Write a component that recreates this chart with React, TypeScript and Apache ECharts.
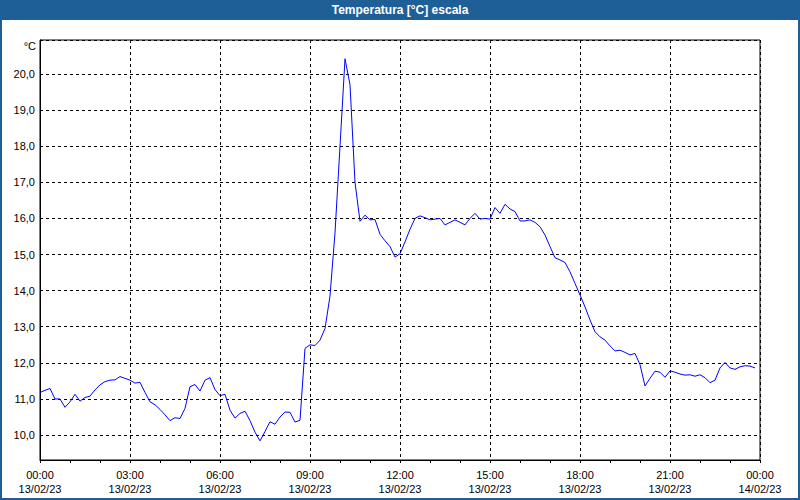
import React, { useEffect, useRef } from "react";
import * as echarts from "echarts";

const TITLE = "Temperatura [°C] escala";
const UNIT = "°C";
const SAMPLE_MINUTES = 10;
const X_TICK_DATES: Record<number, string> = { 0: "13/02/23", 1440: "14/02/23" };
const DEFAULT_DATE = "13/02/23";

// Temperature readings, one every 10 minutes from 00:00 to 23:50
const temperatures: number[] = [
  11.18, 11.24, 11.29, 11.0, 11.0, 10.77, 10.92, 11.13, 10.94, 11.04,
  11.08, 11.25, 11.39, 11.48, 11.52, 11.53, 11.62, 11.57, 11.52, 11.44,
  11.46, 11.18, 10.92, 10.84, 10.71, 10.56, 10.4, 10.48, 10.46, 10.74,
  11.34, 11.4, 11.22, 11.52, 11.59, 11.26, 11.09, 11.13, 10.69, 10.47,
  10.6, 10.66, 10.4, 10.08, 9.84, 10.1, 10.37, 10.3, 10.5, 10.64,
  10.63, 10.36, 10.41, 12.4, 12.5, 12.48, 12.63, 12.95, 13.85, 15.6,
  18.0, 20.42, 19.7, 17.0, 15.92, 16.09, 15.96, 15.97, 15.56, 15.38,
  15.22, 14.93, 15.02, 15.35, 15.7, 16.0, 16.07, 16.02, 15.96, 15.98,
  16.0, 15.82, 15.89, 15.96, 15.89, 15.82, 16.0, 16.14, 15.98, 16.0,
  15.98, 16.3, 16.14, 16.39, 16.26, 16.19, 15.93, 15.93, 15.96, 15.89,
  15.77, 15.54, 15.22, 14.91, 14.85, 14.78, 14.52, 14.2, 13.88, 13.55,
  13.19, 12.86, 12.72, 12.63, 12.47, 12.33, 12.35, 12.29, 12.22, 12.26,
  11.95, 11.36, 11.57, 11.77, 11.74, 11.6, 11.78, 11.74, 11.69, 11.66,
  11.67, 11.63, 11.67, 11.59, 11.45, 11.52, 11.86, 12.01, 11.86, 11.82,
  11.89, 11.92, 11.91, 11.86,
];

const Y_MIN = 9.31;
const Y_MAX = 20.94;
const X_MIN = 0;
const X_MAX = 1440;

const BLUE_FRAME = "#1f5f98";
const FONT = "'Liberation Sans', Arial, sans-serif";

export default function App() {
  const ref = useRef<HTMLDivElement>(null);

  useEffect(() => {
    if (!ref.current) return;
    const chart = echarts.init(ref.current, null, { renderer: "svg" });
    const data = temperatures.map((v, i) => [i * SAMPLE_MINUTES, v]);

    const pad = (n: number) => (n < 10 ? "0" + n : "" + n);
    const xFmt = (v: number) => {
      const h = Math.round(v / 60) % 24;
      const date = X_TICK_DATES[v] ?? DEFAULT_DATE;
      return pad(h) + ":00\n" + date;
    };

    const dashed = { color: "#000", width: 1, type: [3, 3] as number[] };

    chart.setOption({
      animation: false,
      backgroundColor: "#ffffff",
      textStyle: { fontFamily: FONT },
      grid: {
        left: 40,
        right: 40,
        top: 40,
        bottom: 40,
        show: true,
        borderColor: "#000",
        borderWidth: 1,
        backgroundColor: "transparent",
      },
      xAxis: {
        type: "value",
        min: X_MIN,
        max: X_MAX,
        interval: 180,
        axisLine: { show: true, lineStyle: { color: "#000", width: 1 } },
        axisTick: { show: true, length: 3, lineStyle: { color: "#000" } },
        minorTick: { show: true, splitNumber: 3, length: 3, lineStyle: { color: "#000" } },
        splitLine: { show: true, lineStyle: dashed },
        axisLabel: {
          formatter: xFmt,
          color: "#000",
          fontSize: 11,
          fontFamily: FONT,
          lineHeight: 14,
          margin: 8,
        },
      },
      yAxis: {
        type: "value",
        min: Y_MIN,
        max: Y_MAX,
        splitNumber: 11,
        minInterval: 1,
        maxInterval: 1,
        axisLine: { show: true, lineStyle: { color: "#000", width: 1 } },
        axisTick: { show: false },
        splitLine: { show: true, lineStyle: dashed },
        axisLabel: {
          formatter: (v: number) => v.toFixed(1).replace(".", ","),
          color: "#000",
          fontSize: 11,
          fontFamily: FONT,
          margin: 5,
          showMinLabel: false,
          showMaxLabel: false,
        },
      },
      series: [
        {
          type: "line",
          data,
          showSymbol: false,
          symbol: "none",
          lineStyle: { color: "#0000ff", width: 1 },
          itemStyle: { color: "#0000ff" },
        },
      ],
      graphic: [
        {
          type: "rect",
          shape: { x: 0, y: 0, width: 800, height: 20 },
          style: { fill: BLUE_FRAME },
          z: 100,
        },
        {
          type: "rect",
          shape: { x: 1, y: 1, width: 798, height: 498 },
          style: { fill: "none", stroke: BLUE_FRAME, lineWidth: 2 },
          z: 100,
        },
        {
          type: "text",
          x: 400,
          y: 10,
          style: {
            text: TITLE,
            fill: "#ffffff",
            font: "bold 12px " + FONT,
            align: "center",
            verticalAlign: "middle",
          },
          z: 101,
        },
        {
          type: "text",
          x: 36,
          y: 46,
          style: {
            text: UNIT,
            fill: "#000",
            font: "11px " + FONT,
            align: "right",
            verticalAlign: "middle",
          },
          z: 101,
        },
      ],
    });

    return () => {
      chart.dispose();
    };
  }, []);

  return (
    <div
      ref={ref}
      style={{ position: "fixed", left: 0, top: 0, width: 800, height: 500 }}
    />
  );
}
